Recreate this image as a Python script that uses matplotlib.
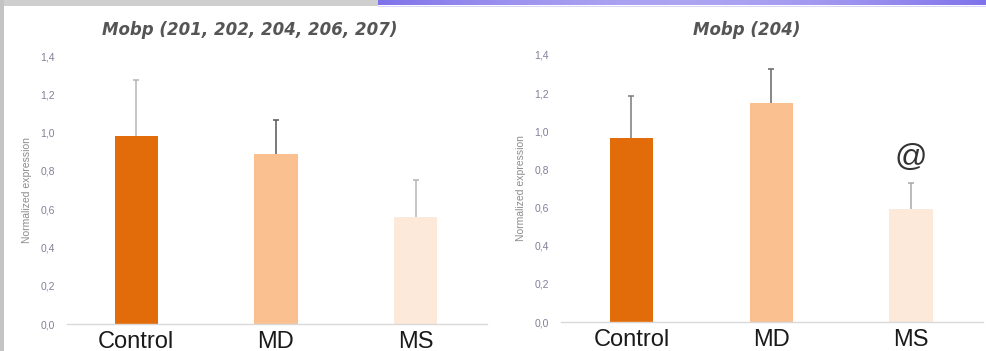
import numpy as np
import matplotlib
matplotlib.use("Agg")
import matplotlib.pyplot as plt
from matplotlib.ticker import FuncFormatter

# Data
categories = ["Control", "MD", "MS"]
left_title = "Mobp (201, 202, 204, 206, 207)"
left_values = [0.98, 0.89, 0.56]
left_errors = [0.295, 0.175, 0.19]
right_title = "Mobp (204)"
right_values = [0.965, 1.15, 0.59]
right_errors = [0.22, 0.175, 0.14]
yticks = [0.0, 0.2, 0.4, 0.6, 0.8, 1.0, 1.2, 1.4]
annotation_mark = "@"

bar_colors = ["#e36c0a", "#fac090", "#fde9d9"]
W, H = 986, 351

fig = plt.figure(figsize=(W / 100, H / 100), dpi=100)
fig.patch.set_facecolor("white")

# Frame decorations: grey band/left strip and purple band at top
band = fig.add_axes([0, 0, 1, 1], zorder=-5)
band.axis("off")
band.add_patch(plt.Rectangle((0, 0), 378, 5.5, color="#cfcfcf", lw=0))
band.add_patch(plt.Rectangle((0, 0), 3.5, H, color="#c4c4c4", lw=0))
grad = np.linspace(0, 1, 300)
mix = 0.35 * np.sin(np.pi * grad)[:, None]
purple = np.array([[0.50, 0.45, 0.92]]) * (1 - mix) + np.array([[1, 1, 1]]) * mix
band.imshow(purple[None, :, :], extent=(378, W, 5.5, 0), aspect="auto")
band.add_patch(plt.Rectangle((378, 5.5), W - 378, 1.5, color="#d8d4fa", lw=0))
band.set_xlim(0, W)
band.set_ylim(H, 0)

fmt = FuncFormatter(lambda v, p: f"{v:.1f}".replace(".", ","))


def panel(rect, title, values, errors, err_colors, xlim, title_x):
    ax = fig.add_axes(rect)
    x = np.arange(len(categories))
    ax.bar(x, values, width=0.31, color=bar_colors, zorder=2)
    for xi, v, e, c in zip(x, values, errors, err_colors):
        _, caps, _ = ax.errorbar(xi, v, yerr=[[0], [e]], fmt="none", ecolor=c,
                                 elinewidth=1.1, capsize=2.5, capthick=1.1,
                                 zorder=3)
        caps[0].set_visible(False)
    ax.set_ylim(0, 1.4)
    ax.set_xlim(*xlim)
    ax.set_yticks(yticks)
    ax.yaxis.set_major_formatter(fmt)
    ax.set_xticks(x)
    ax.set_xticklabels(categories, fontsize=17, color="#1a1a1a",
                       family="Liberation Sans")
    ax.tick_params(axis="x", length=0, pad=5)
    ax.tick_params(axis="y", length=0, pad=8.5, labelsize=7.5,
                   labelcolor="#80809a")
    for lab in ax.get_yticklabels():
        lab.set_family("Liberation Sans")
    for s in ["top", "right", "left"]:
        ax.spines[s].set_visible(False)
    ax.spines["bottom"].set_color("#d9d9d9")
    ax.spines["bottom"].set_linewidth(1)
    ax.set_ylabel("Normalized expression", fontsize=7.5, color="#8c8c8c",
                  family="Liberation Sans", labelpad=6)
    fig.text(title_x, 1 - 30 / H, title, ha="center", va="center",
             fontsize=12, fontweight="bold", fontstyle="italic",
             color="#555555", family="DejaVu Sans")
    return ax


axl = panel([67 / W, 27 / H, 420 / W, 268 / H], left_title, left_values,
            left_errors, ["#b5b5b5", "#555555", "#b5b5b5"],
            (-0.495, 2.51), 250 / W)
axr = panel([561 / W, 29 / H, 422 / W, 267 / H], right_title, right_values,
            right_errors, ["#7a7a7a", "#666666", "#a8a8a8"],
            (-0.504, 2.514), 747 / W)
axr.text(2, 0.86, annotation_mark, ha="center", va="center", fontsize=23,
         color="#333333", family="Liberation Sans")

fig.savefig("out.png", dpi=100)
